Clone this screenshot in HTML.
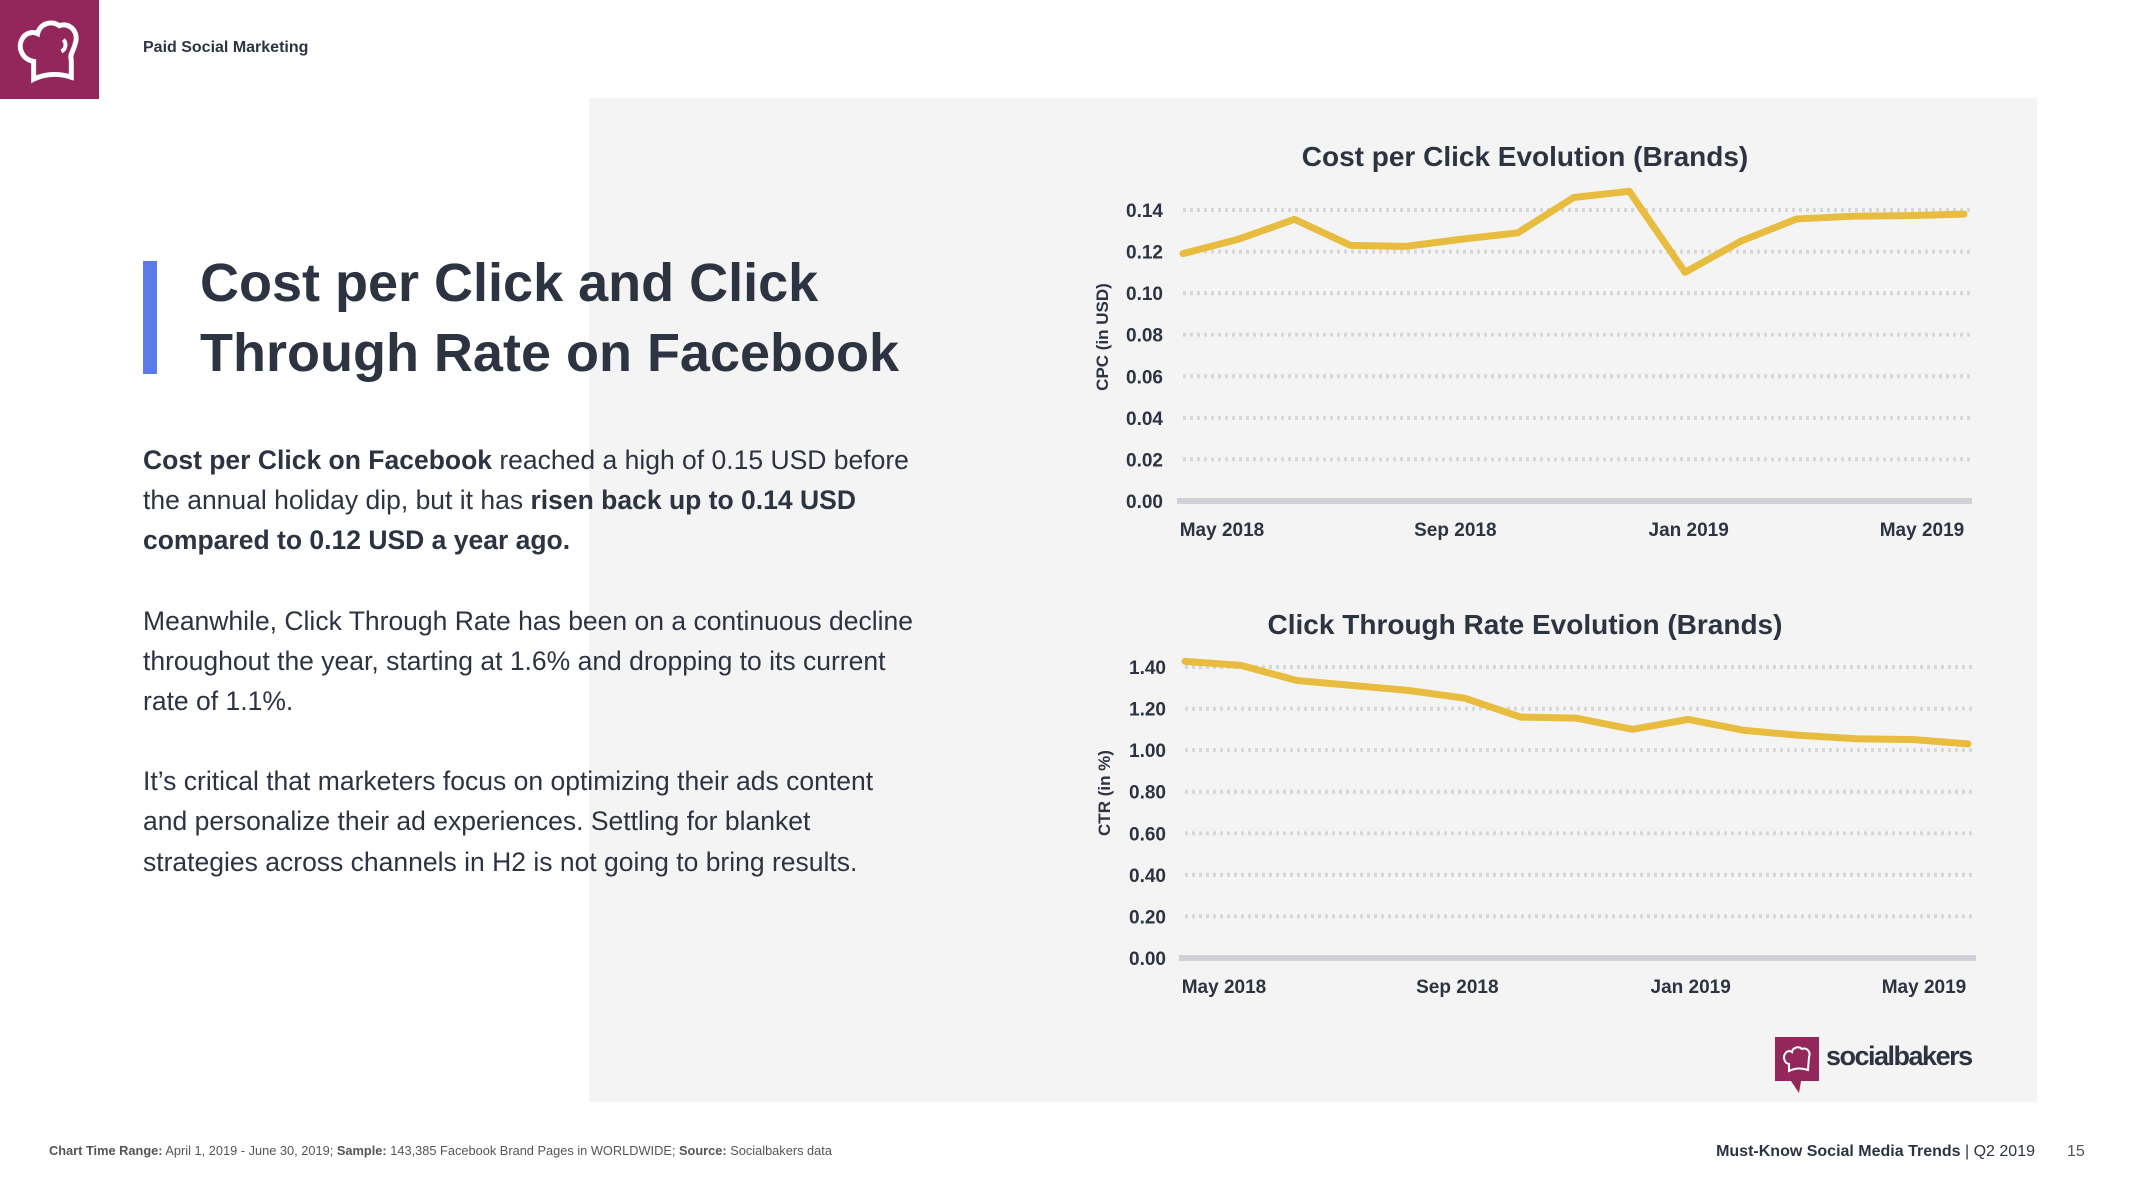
<!DOCTYPE html>
<html><head><meta charset="utf-8"><style>
html,body{margin:0;padding:0;background:#fff;width:2133px;height:1200px;overflow:hidden;font-family:"Liberation Sans",sans-serif;color:#2d3340}
.abs{position:absolute}
</style></head><body>
<div class="abs" style="left:0;top:0;width:99px;height:99px;background:#93265b">
<svg width="99" height="99" viewBox="0 0 100 100"><path d="M34 80 L34 62 C22 60 18 48 22 40 C26 32 34 32 38 34 C40 24 52 20 60 26 C70 22 80 32 76 44 C74 52 70 56 72 60 L72 78 C60 74 46 74 34 80 Z" fill="none" stroke="#fff" stroke-width="5"/><path d="M64 40 C68 44 66 50 62 52" fill="none" stroke="#fff" stroke-width="4"/></svg></div>
<div class="abs" style="left:143px;top:39px;font-size:16px;font-weight:bold">Paid Social Marketing</div>
<div class="abs" style="left:589px;top:98px;width:1448px;height:1004px;background:#f4f4f4"></div>
<div class="abs" style="left:143px;top:261px;width:14px;height:113px;background:#5b7be8"></div>
<div class="abs" style="left:200px;top:248px;font-size:54px;font-weight:bold;line-height:70px;color:#2d3340">Cost per Click and Click<br>Through Rate on Facebook</div>
<div class="abs" style="left:143px;top:440px;width:775px;font-size:26.5px;line-height:40.2px;color:#2d3340">
<p style="margin:0 0 40px 0"><b>Cost per Click on Facebook</b> reached a high of 0.15 USD before the annual holiday dip, but it has <b>risen back up to 0.14 USD compared to 0.12 USD a year ago.</b></p>
<p style="margin:0 0 40px 0">Meanwhile, Click Through Rate has been on a continuous decline throughout the year, starting at 1.6% and dropping to its current rate of 1.1%.</p>
<p style="margin:0">It’s critical that marketers focus on optimizing their ads content and personalize their ad experiences. Settling for blanket strategies across channels in H2 is not going to bring results.</p>
</div>
<svg class="abs" style="left:0;top:0" width="2133" height="1200" id="charts"></svg>
<div class="abs" style="left:1775px;top:1037px">
<svg width="46" height="56" viewBox="0 0 46 56"><rect x="0" y="0" width="44" height="44" fill="#93265b"/><path d="M16 44 L24 56 L26 44Z" fill="#93265b"/><path d="M14 34 L14 27 C9 26 8 20 10 17 C12 13 16 14 17 15 C18 10 24 9 27 12 C32 10 36 15 34 20 L33 33 C27 31 20 31 14 34Z" fill="none" stroke="#fff" stroke-width="2"/></svg></div>
<div class="abs" style="left:1826px;top:1041px;font-size:27px;font-weight:bold;letter-spacing:-1.5px;color:#2d3340">socialbakers</div>
<div class="abs" style="left:49px;top:1143px;font-size:12.8px;color:#555"><b>Chart Time Range:</b> April 1, 2019 - June 30, 2019; <b>Sample:</b> 143,385 Facebook Brand Pages in WORLDWIDE; <b>Source:</b> Socialbakers data</div>
<div class="abs" style="right:98px;top:1143px;font-size:16px;color:#2d3340"><b>Must-Know Social Media Trends</b> | Q2 2019</div>
<div class="abs" style="left:2067px;top:1143px;font-size:16px;color:#555">15</div>
<script>
const months = ["Apr 2018","May 2018","Jun 2018","Jul 2018","Aug 2018","Sep 2018","Oct 2018","Nov 2018","Dec 2018","Jan 2019","Feb 2019","Mar 2019","Apr 2019","May 2019","Jun 2019"];
const cpcValues = [0.119,0.126,0.1355,0.123,0.1225,0.126,0.129,0.146,0.149,0.110,0.125,0.1357,0.137,0.1373,0.138];
const ctrValues = [1.427,1.408,1.335,1.311,1.287,1.250,1.159,1.154,1.100,1.148,1.095,1.071,1.055,1.051,1.030];
const cpcTicks = [0,0.02,0.04,0.06,0.08,0.10,0.12,0.14];
const ctrTicks = [0,0.2,0.4,0.6,0.8,1.0,1.2,1.4];
const xLabelIdx = [1,5,9,13];
const NS="http://www.w3.org/2000/svg";
const svg=document.getElementById('charts');
function el(t,a){const e=document.createElementNS(NS,t);for(const k in a)e.setAttribute(k,a[k]);svg.appendChild(e);return e;}
function chart(o){
  const x=i=>o.x0+(o.x1-o.x0)*i/(months.length-1);
  const xl=i=>o.lx0+(o.lx1-o.lx0)*(i-1)/12;
  const y=v=>o.yb+(o.yt-o.yb)*v/o.vmax;
  const t=el('text',{x:o.tx,y:o.ty,'text-anchor':'middle','font-size':28,'font-weight':'bold',fill:'#2d3340','font-family':'Liberation Sans'});
  t.textContent=o.title;
  
  
  const at=el('text',{x:0,y:0,transform:`translate(${o.ax},${o.ay}) rotate(-90)`,'text-anchor':'middle','font-size':17,'font-weight':'bold',fill:'#2d3340','font-family':'Liberation Sans'});
  at.textContent=o.ytitle;
  
  
  o.ticks.forEach(v=>{
    if(v>0){const g=el('line',{x1:o.x0,x2:o.x1+6,y1:y(v),y2:y(v),stroke:'#d6d7db','stroke-width':4,'stroke-dasharray':'3 4'});
      
      }
    const l=el('text',{x:o.lx,y:y(v)+7,'text-anchor':'end','font-size':19,'font-weight':'bold',fill:'#2d3340','font-family':'Liberation Sans'});
    l.textContent=v.toFixed(2);
    
    
  });
  const b=el('line',{x1:o.x0-6,x2:o.x1+8,y1:o.yb,y2:o.yb,stroke:'#d0d2d8','stroke-width':6});
  
  
  xLabelIdx.forEach(i=>{
    const l=el('text',{x:xl(i),y:o.xly,'text-anchor':'middle','font-size':19,'font-weight':'bold',fill:'#2d3340','font-family':'Liberation Sans'});
    l.textContent=months[i];
    
    
  });
  const p=el('polyline',{points:o.vals.map((v,i)=>x(i)+','+y(v)).join(' '),fill:'none',stroke:'#e8bd3f','stroke-width':7,'stroke-linejoin':'round','stroke-linecap':'round'});
  
  
}
chart({key:'cpc',title:'Cost per Click Evolution (Brands)',ytitle:'CPC (in USD)',vals:cpcValues,ticks:cpcTicks,vmax:0.14,
  x0:1183,x1:1964,yb:501,yt:210,tx:1525,ty:166,ax:1108,ay:337,lx:1163,xly:536,lx0:1222,lx1:1922});
chart({key:'ctr',title:'Click Through Rate Evolution (Brands)',ytitle:'CTR (in %)',vals:ctrValues,ticks:ctrTicks,vmax:1.4,
  x0:1185,x1:1968,yb:958,yt:667,tx:1525,ty:634,ax:1110,ay:793,lx:1166,xly:993,lx0:1224,lx1:1924});
</script>
</body></html>
